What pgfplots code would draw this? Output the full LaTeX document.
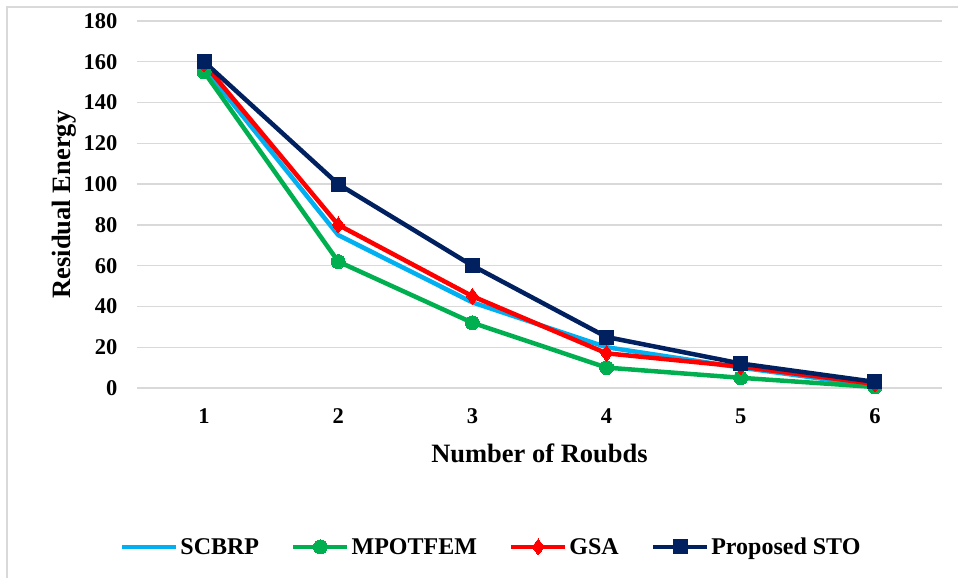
\documentclass[border=0pt]{standalone}
\usepackage{pgfplots}
\pgfplotsset{compat=1.18}
\usepackage{fontspec}
\setmainfont{Liberation Serif}
\definecolor{cB}{RGB}{0,176,240}
\definecolor{cG}{RGB}{0,176,80}
\definecolor{cR}{RGB}{255,0,0}
\definecolor{cN}{RGB}{0,32,96}
\definecolor{gridc}{RGB}{217,217,217}
\begin{document}
\begin{tikzpicture}
\useasboundingbox (-137pt,-190pt) rectangle (821pt,388pt);
\draw[gridc,line width=1.5pt] (-130pt,-200pt) -- (-130pt,381pt) -- (830pt,381pt);
\begin{axis}[
  at={(0pt,0pt)}, anchor=south west,
  scale only axis, width=805pt, height=367pt,
  xmin=0.5, xmax=6.5, ymin=0, ymax=180,
  xtick={1,2,3,4,5,6}, ytick={0,20,...,180},
  axis line style={draw=none},
  major tick length=0pt,
  ymajorgrids, grid style={gridc,line width=1.3pt},
  /pgf/number format/assume math mode=true,
  ticklabel style={font=\fontsize{22.5}{24}\selectfont\bfseries},
  yticklabel style={xshift=-16pt},
  xticklabel style={yshift=-17pt},
  xlabel={Number of Roubds},
  ylabel={Residual Energy},
  label style={font=\fontsize{26.5}{28}\selectfont\bfseries},
  xlabel style={yshift=-13pt},
  ylabel style={yshift=1pt},
  legend columns=4,
  legend style={at={(0.44,-0.433)}, anchor=center, draw=none,
    font=\fontsize{24}{26}\selectfont\bfseries,
    /tikz/every even column/.append style={column sep=30pt},
    inner sep=0pt},
  legend image code/.code={\draw[mark repeat=2,mark phase=2] plot coordinates {(0pt,0pt) (27pt,0pt) (54pt,0pt)};},
  every axis plot/.append style={line width=4.5pt, line join=round},
]
\addplot[cB, mark=none] coordinates {(1,157) (2,75) (3,42) (4,20) (5,10) (6,1)};
\addlegendentry{SCBRP}
\addplot[cG, mark=*, mark size=7pt, mark options={line width=0pt, fill=cG}] coordinates {(1,155) (2,62) (3,32) (4,10) (5,5) (6,0.5)};
\addlegendentry{MPOTFEM}
\addplot[cR, mark=diamond*, mark size=8pt, mark options={line width=0pt, fill=cR}] coordinates {(1,159) (2,80) (3,45) (4,17) (5,10.5) (6,2)};
\addlegendentry{GSA}
\addplot[cN, mark=square*, mark size=7pt, mark options={line width=0pt, fill=cN}] coordinates {(1,160) (2,100) (3,60) (4,25) (5,12) (6,3)};
\addlegendentry{Proposed STO}
\end{axis}
\end{tikzpicture}
\end{document}
